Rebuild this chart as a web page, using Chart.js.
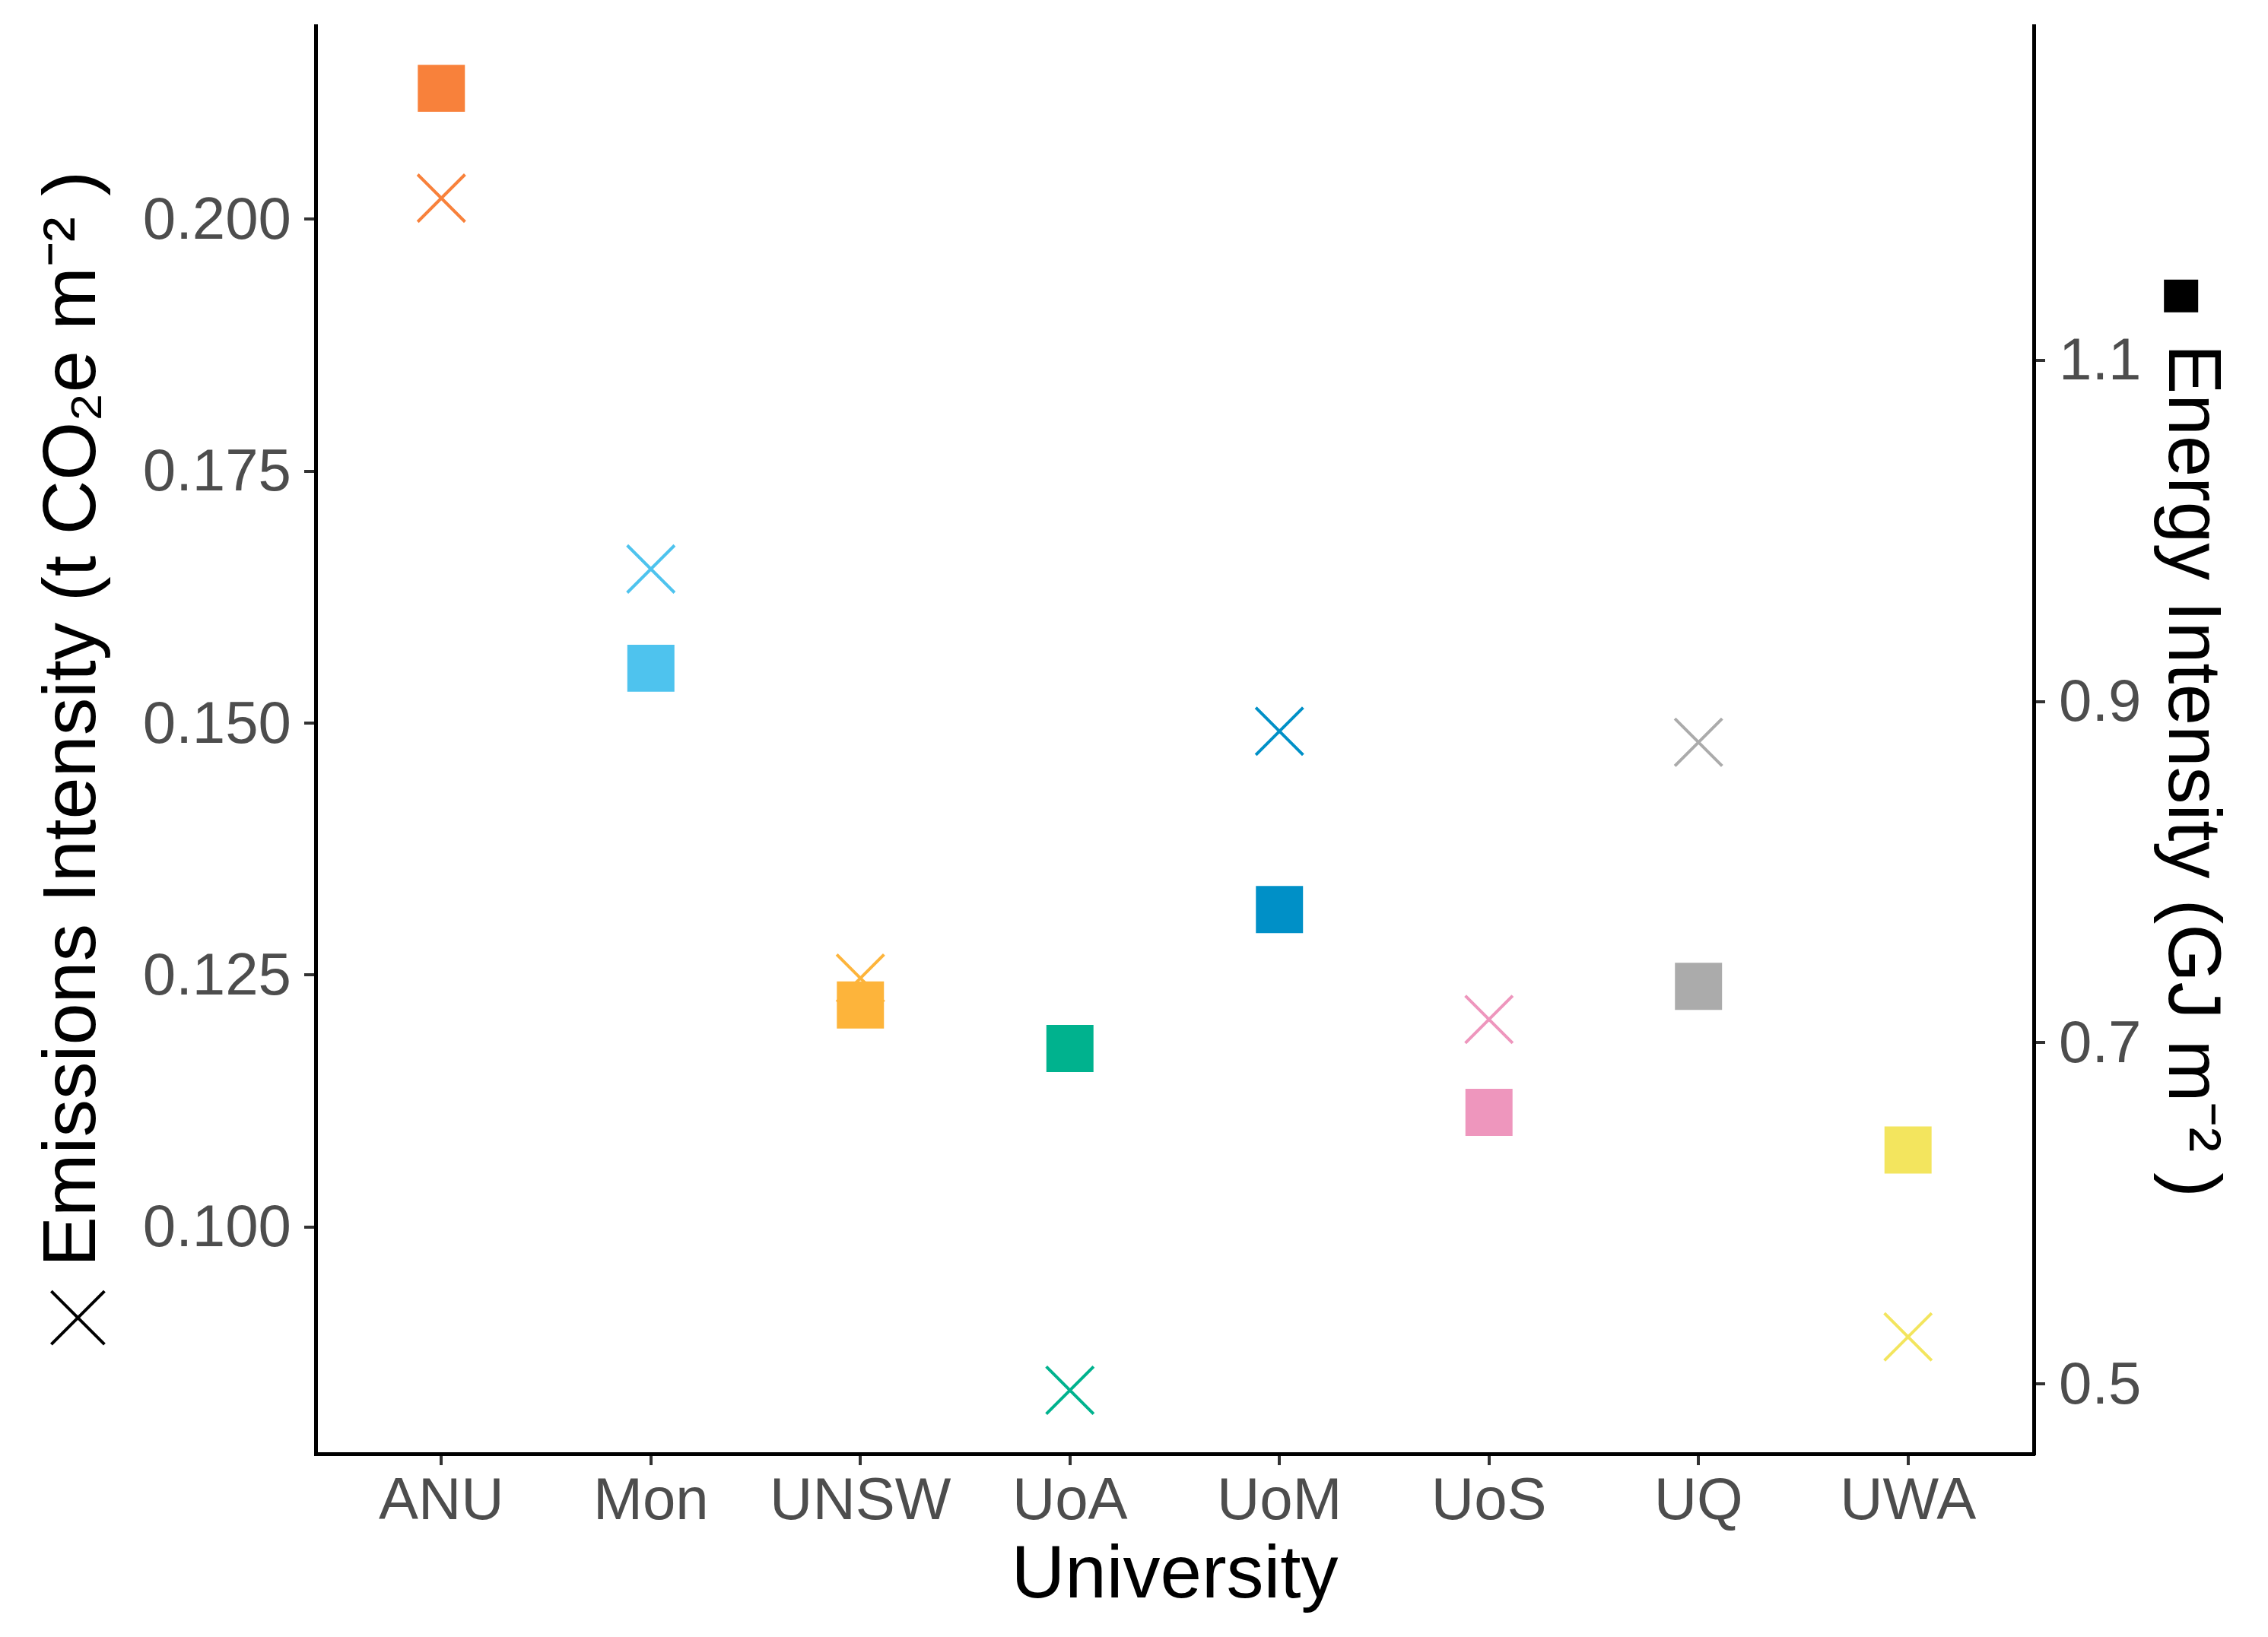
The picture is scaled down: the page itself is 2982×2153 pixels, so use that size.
<!DOCTYPE html>
<html>
<head>
<meta charset="utf-8">
<script src="https://cdn.jsdelivr.net/npm/chart.js@4.4.1/dist/chart.umd.min.js"></script>
<style>
  html, body { margin: 0; padding: 0; background: #ffffff; }
  #wrap { width: 2982px; height: 2153px; }
</style>
</head>
<body>
<div id="wrap"><canvas id="c" width="2982" height="2153"></canvas></div>
<script>
// ---------------- DATA ----------------
const universities = ['ANU', 'Mon', 'UNSW', 'UoA', 'UoM', 'UoS', 'UQ', 'UWA'];
const emissionsIntensity = [0.2021, 0.1653, 0.1247, 0.0838, 0.1492, 0.1206, 0.1481, 0.0891];
const energyIntensity = [1.2595, 0.9195, 0.7221, 0.6966, 0.7780, 0.6591, 0.7330, 0.6371];
const pointColors = ['#F8813B', '#4EC3EE', '#FDB43B', '#00B28E', '#0090C7', '#EE96BD', '#ABABAB', '#F3E55E'];
const emissionsTicks = [0.100, 0.125, 0.150, 0.175, 0.200];
const energyTicks = [0.5, 0.7, 0.9, 1.1];
const xTitle = 'University';
const yTitle = 'Emissions Intensity (t CO\u2082e m\u207B\u00B2 )';
const y1Title = 'Energy Intensity (GJ m\u207B\u00B2 )';

// ---------------- STYLE ----------------
const FONT = '"Liberation Sans", Arial, Helvetica, sans-serif';
const TICK_SIZE = 78;
const TITLE_SIZE = 98;
const LEFT_TITLE_SIZE = 99;
const LEFT_PAD = '  ';
const RIGHT_PAD = '   ';

const titleMarkers = {
  id: 'titleMarkers',
  afterDraw(chart) {
    const ctx = chart.ctx;
    const ys = chart.scales.y, y1s = chart.scales.y1;
    ctx.save();
    // left: cross marker before the rotated title (reads bottom to top)
    ctx.font = LEFT_TITLE_SIZE + 'px ' + FONT;
    const cyL = (ys.top + ys.bottom) / 2;
    const wL = ctx.measureText(LEFT_PAD + yTitle).width;
    const padL = ctx.measureText(LEFT_PAD).width;
    const startL = cyL + wL / 2 - padL;
    const mx = ys.left + LEFT_TITLE_SIZE * 1.2 / 2 + 38 + 5;
    const my = startL + 67;
    const h = 35;
    ctx.strokeStyle = '#000000';
    ctx.lineWidth = 4;
    ctx.beginPath();
    ctx.moveTo(mx - h, my - h); ctx.lineTo(mx + h, my + h);
    ctx.moveTo(mx - h, my + h); ctx.lineTo(mx + h, my - h);
    ctx.stroke();
    // right: square marker before the rotated title (reads top to bottom)
    ctx.font = TITLE_SIZE + 'px ' + FONT;
    const cyR = (y1s.top + y1s.bottom) / 2;
    const wR = ctx.measureText(RIGHT_PAD + y1Title).width;
    const padR = ctx.measureText(RIGHT_PAD).width;
    const startR = cyR - wR / 2 + padR;
    const sx = y1s.right - TITLE_SIZE * 1.2 / 2 - 44 - 11.5;
    const sy = startR - 63.5;
    ctx.fillStyle = '#000000';
    ctx.fillRect(sx - 22.5, sy - 21.5, 45, 43);
    ctx.restore();
  }
};

function noScalePadding(s) {
  s.paddingTop = 0; s.paddingBottom = 0; s.paddingLeft = 0; s.paddingRight = 0;
}

const ctx = document.getElementById('c').getContext('2d');
new Chart(ctx, {
  type: 'scatter',
  data: {
    datasets: [
      {
        label: 'Energy Intensity',
        data: energyIntensity.map((v, i) => ({ x: i, y: v })),
        xAxisID: 'x',
        yAxisID: 'y1',
        pointStyle: 'rect',
        pointRadius: 43.8,
        pointHoverRadius: 43.8,
        pointBackgroundColor: pointColors,
        pointBorderColor: pointColors,
        pointBorderWidth: 0,
        order: 0
      },
      {
        label: 'Emissions Intensity',
        data: emissionsIntensity.map((v, i) => ({ x: i, y: v })),
        xAxisID: 'x',
        yAxisID: 'y',
        pointStyle: 'crossRot',
        pointRadius: 44,
        pointHoverRadius: 44,
        pointBackgroundColor: pointColors,
        pointBorderColor: pointColors,
        pointBorderWidth: 4,
        order: 1
      }
    ]
  },
  options: {
    responsive: false,
    animation: false,
    devicePixelRatio: 1,
    layout: { autoPadding: false, padding: { top: 34, left: 0, right: 0, bottom: 0 } },
    plugins: {
      legend: { display: false },
      tooltip: { enabled: false }
    },
    scales: {
      x: {
        type: 'linear',
        position: 'bottom',
        min: -0.6,
        max: 7.6,
        afterBuildTicks: s => { s.ticks = universities.map((_, i) => ({ value: i })); },
        afterFit: s => { s.height = 241; noScalePadding(s); },
        ticks: {
          autoSkip: false,
          maxRotation: 0,
          padding: 3,
          color: '#4D4D4D',
          font: { family: FONT, size: TICK_SIZE },
          callback: v => universities[v]
        },
        grid: { display: true, drawOnChartArea: false, drawTicks: true, tickLength: 15, color: '#333333', lineWidth: 4 },
        border: { display: true, color: '#000000', width: 5 },
        title: { display: true, text: xTitle, color: '#000000', font: { family: FONT, size: TITLE_SIZE }, padding: { top: 0, bottom: 20 } }
      },
      y: {
        type: 'linear',
        position: 'left',
        min: 0.0775,
        max: 0.2192,
        afterBuildTicks: s => { s.ticks = emissionsTicks.map(v => ({ value: v })); },
        afterFit: s => { s.width = 415; noScalePadding(s); },
        ticks: {
          padding: 17,
          labelOffset: 4,
          color: '#4D4D4D',
          font: { family: FONT, size: TICK_SIZE },
          callback: v => Number(v).toFixed(3)
        },
        grid: { display: true, drawOnChartArea: false, drawTicks: true, tickLength: 15, color: '#333333', lineWidth: 4 },
        border: { display: true, color: '#000000', width: 5 },
        title: { display: true, text: LEFT_PAD + yTitle, color: '#000000', font: { family: FONT, size: LEFT_TITLE_SIZE }, padding: { top: 38, bottom: 0 } }
      },
      y1: {
        type: 'linear',
        position: 'right',
        min: 0.459,
        max: 1.2961,
        afterBuildTicks: s => { s.ticks = energyTicks.map(v => ({ value: v })); },
        afterFit: s => { s.width = 308; noScalePadding(s); },
        ticks: {
          padding: 18,
          labelOffset: 4,
          color: '#4D4D4D',
          font: { family: FONT, size: TICK_SIZE },
          callback: v => Number(v).toFixed(1)
        },
        grid: { display: true, drawOnChartArea: false, drawTicks: true, tickLength: 15, color: '#333333', lineWidth: 4 },
        border: { display: true, color: '#000000', width: 5 },
        title: { display: true, text: RIGHT_PAD + y1Title, color: '#000000', font: { family: FONT, size: TITLE_SIZE }, padding: { top: 44, bottom: 0 } }
      }
    }
  },
  plugins: [titleMarkers]
});
</script>
</body>
</html>
